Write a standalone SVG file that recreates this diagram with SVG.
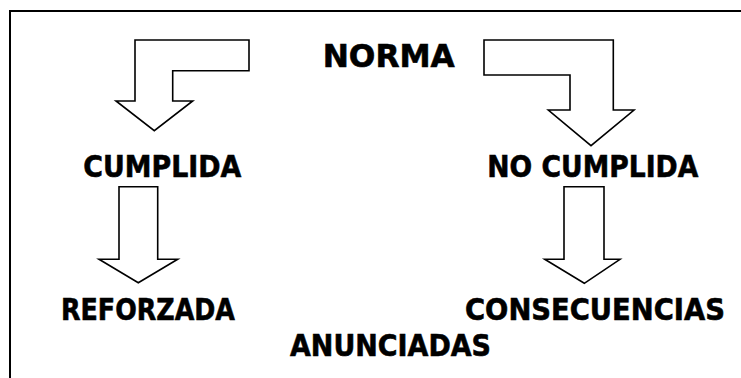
<svg xmlns="http://www.w3.org/2000/svg" width="741" height="378" viewBox="0 0 741 378">
<style>
.arrow{fill:#fff;stroke:#000;stroke-width:1.6;stroke-linejoin:miter}
.lbl{font-family:"DejaVu Sans","Liberation Sans",sans-serif;font-weight:bold;fill:#000;stroke:#000;stroke-width:0.6;font-size:29.5px}
</style>
<rect width="741" height="378" fill="#fff"/>
<path d="M10 378 V11 H741" fill="none" stroke="#000" stroke-width="2"/>
<g id="connectors">
<polygon class="arrow" points="135,40 249,40 249,70.7 172.7,70.7 172.7,101 192.7,101 154.3,130.7 116,101 135,101"/>
<polygon class="arrow" points="484,40 613.3,40 613.3,110 634,110 591,145.7 548.3,110 570,110 570,75 484,75"/>
<polygon class="arrow" points="119,186.7 157.7,186.7 157.7,259.3 177.7,259.3 138.3,282.7 99,259.3 119,259.3"/>
<polygon class="arrow" points="564,186.7 604,186.7 604,259.3 620,259.3 584.3,283.3 544.7,259.3 564,259.3"/>
</g>
<g id="norma"><text class="lbl" x="322.7" y="67" style="font-size:32px" textLength="132" lengthAdjust="spacingAndGlyphs">NORMA</text></g>
<g id="cumplida"><text class="lbl" x="83.3" y="176.5" textLength="158" lengthAdjust="spacingAndGlyphs">CUMPLIDA</text></g>
<g id="no-cumplida"><text class="lbl" x="487.3" y="176.5" textLength="211" lengthAdjust="spacingAndGlyphs">NO CUMPLIDA</text></g>
<g id="reforzada"><text class="lbl" x="61" y="319.5" textLength="174" lengthAdjust="spacingAndGlyphs">REFORZADA</text></g>
<g id="consecuencias"><text class="lbl" x="465" y="319.5" textLength="260" lengthAdjust="spacingAndGlyphs">CONSECUENCIAS</text>
<text class="lbl" x="290" y="356" textLength="201" lengthAdjust="spacingAndGlyphs">ANUNCIADAS</text></g>
</svg>
